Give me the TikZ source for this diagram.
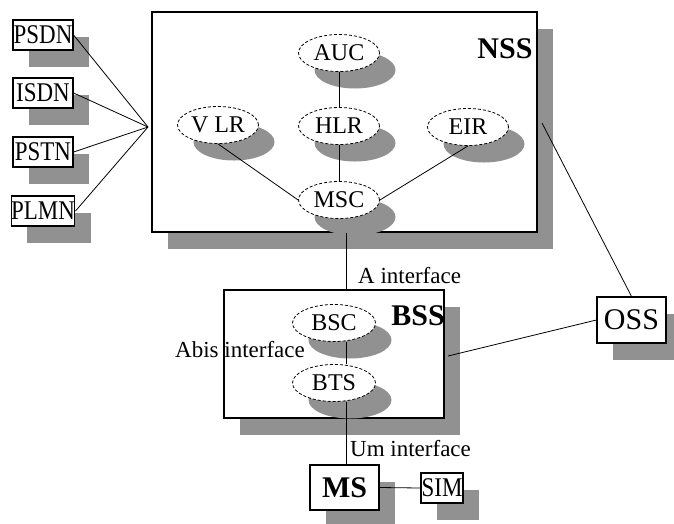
\documentclass[tikz,border=0pt]{standalone}
\usepackage{fontspec}
\setmainfont{Liberation Serif}
\newfontfamily\narrowserif[FakeStretch=0.85]{Liberation Serif}
\usetikzlibrary{shapes.geometric,shadows}

\definecolor{shade}{RGB}{145,145,145}
\tikzset{
  shadowed/.style={drop shadow={shadow xshift=16pt,shadow yshift=-17pt,fill=shade,opacity=1}},
  netbox/.style={draw,fill=white,line width=1.2pt,shadowed,inner sep=0pt,
    minimum width=60pt,minimum height=30pt,font=\narrowserif\fontsize{27}{27}\selectfont},
  unit/.style={ellipse,draw,densely dashed,line width=0.8pt,fill=white,shadowed,inner sep=0pt,
    minimum width=81pt,minimum height=37pt,font=\fontsize{24}{24}\selectfont},
  subsys/.style={draw,fill=white,line width=1.2pt,shadowed,inner sep=0pt},
  title/.style={anchor=base,inner sep=0pt,font=\bfseries\fontsize{30}{30}\selectfont},
  iface/.style={anchor=base west,inner sep=0pt,font=\fontsize{23}{23}\selectfont},
  link/.style={line width=0.8pt}
}

\begin{document}
\begin{tikzpicture}[x=1pt,y=-1pt]
  \useasboundingbox (0,0) rectangle (674,523);

  % subsystems
  \node[subsys,minimum width=385pt,minimum height=220pt] (NSS) at (344.5,122) {};
  \node[subsys,minimum width=220pt,minimum height=128pt] (BSS) at (334,354) {};
  \node[title] (nsstitle) at (505,58) {NSS};
  \node[title] (bsstitle) at (418,325) {BSS};

  % NSS units
  \node[unit] (AUC) at (339,53) {AUC};
  \node[unit] (HLR) at (339,126) {HLR};
  \node[unit] (VLR) at (218,125) {V LR};
  \node[unit] (EIR) at (468,127) {EIR};
  \node[unit] (MSC) at (339,200) {MSC};

  % BSS units
  \node[unit,minimum width=83pt] (BSC) at (334,323) {BSC};
  \node[unit,minimum width=83pt] (BTS) at (334,383) {BTS};

  % outside networks
  \node[netbox] (PSDN) at (43,35) {PSDN};
  \node[netbox] (ISDN) at (43,93) {ISDN};
  \node[netbox] (PSTN) at (43,152) {PSTN};
  \node[netbox] (PLMN) at (43,211) {PLMN};
  \coordinate (hub) at (148,127);

  \node[subsys,minimum width=69pt,minimum height=46pt,font=\fontsize{30}{30}\selectfont] (OSS) at (631.5,320) {OSS};
  \node[subsys,minimum width=69pt,minimum height=45pt,font=\bfseries\fontsize{30}{30}\selectfont] (MS) at (344.5,487.5) {MS};
  \node[netbox,minimum width=42pt] (SIM) at (442,488) {SIM};

  % links
  \coordinate (axis) at (346,0);
  \coordinate (nssport) at (542,123);
  \coordinate (bssport) at (448,356);
  \draw[link] (PSDN.east) -- (hub);
  \draw[link] (ISDN.east) -- (hub);
  \draw[link] (PSTN.east) -- (hub);
  \draw[link] (PLMN.east) -- (hub);
  \draw[link] (AUC) -- (HLR);
  \draw[link] (HLR) -- (MSC);
  \draw[link] (VLR.south) -- (MSC.west);
  \draw[link] (EIR.south) -- (MSC.east);
  \draw[link] (NSS.south -| axis) -- (BSS.north -| axis);
  \draw[link] (BSC.south -| axis) -- (BTS.north -| axis);
  \draw[link] (BTS.south -| axis) -- (MS.north -| axis);
  \draw[link] (nssport) -- (OSS.north);
  \draw[link] (bssport) -- (OSS.west);
  \draw[link] (MS.east) -- (SIM.west);

  \node[iface] (aif) at (358,283) {A interface};
  \node[iface] (abisif) at (175,357) {Abis interface};
  \node[iface] (umif) at (350,456) {Um interface};
\end{tikzpicture}
\end{document}
